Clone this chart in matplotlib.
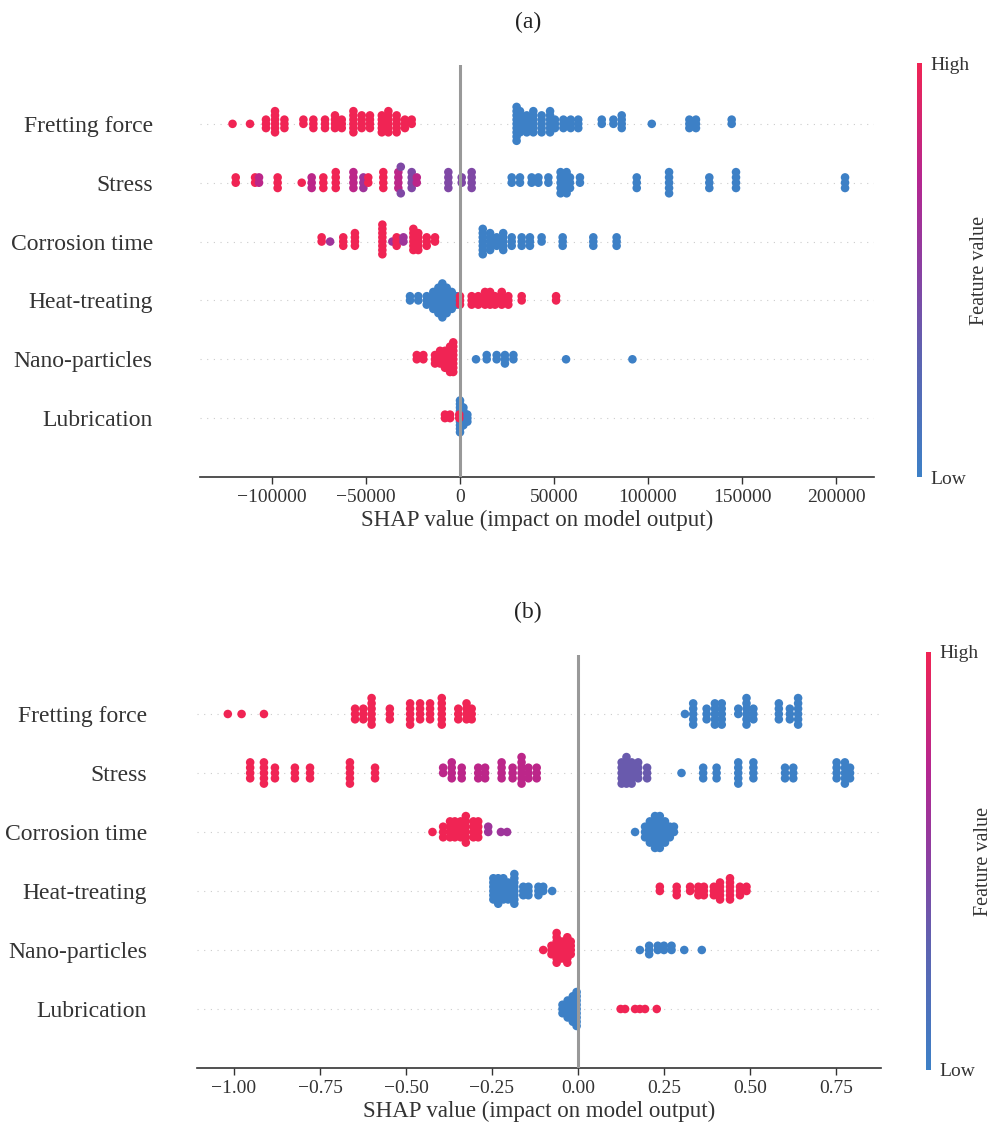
import numpy as np
import matplotlib.pyplot as plt
from matplotlib.colors import LinearSegmentedColormap
from matplotlib.cm import ScalarMappable

plt.rcParams['font.family'] = ['Liberation Serif', 'DejaVu Serif']

features = ["Fretting force", "Stress", "Corrosion time", "Heat-treating", "Nano-particles", "Lubrication"]

# each entry: (shap value, number of samples at that value, feature value 0=low .. 1=high)
a_fretting = [(-121000, 1, 1), (-111700, 1, 1), (-103200, 3, 1), (-98400, 6, 1), (-93400, 3, 1),
              (-83300, 2, 1), (-78000, 3, 1), (-71800, 3, 1), (-66500, 4, 1), (-62900, 3, 1),
              (-56700, 6, 1), (-52300, 4, 1), (-47900, 4, 1), (-41600, 5, 1), (-38100, 6, 1),
              (-33700, 5, 1), (-29300, 3, 1), (-25700, 2, 1),
              (30100, 9, 0), (31900, 6, 0), (35500, 5, 0), (39000, 6, 0), (43400, 5, 0),
              (47900, 6, 0), (50500, 3, 0), (55000, 3, 0), (58900, 3, 0), (62900, 3, 0),
              (75400, 2, 0), (81600, 2, 0), (86000, 4, 0), (102000, 1, 0), (122000, 3, 0),
              (125500, 3, 0), (144500, 2, 0)]
a_stress = [(-119300, 2, 1), (-109000, 2, 1), (-106900, 2, 0.75), (-97000, 3, 1), (-84200, 1, 1),
            (-78900, 3, 0.75), (-72700, 3, 1), (-66100, 4, 1), (-56700, 4, 0.75), (-51400, 3, 0.6),
            (-48800, 2, 1), (-40800, 4, 1), (-32800, 4, 0.75), (-31500, 2, 0.45), (-25700, 4, 0.45),
            (-23000, 2, 0.75), (-6200, 4, 0.45), (900, 2, 0.45), (6200, 4, 0.45),
            (27500, 2, 0), (31900, 2, 0), (38100, 2, 0), (41700, 2, 0), (47000, 2, 0),
            (53500, 5, 0), (56700, 5, 0), (58500, 3, 0), (63800, 2, 0), (94000, 3, 0),
            (111200, 5, 0), (132600, 3, 0), (146800, 4, 0), (204800, 3, 0)]
a_corrosion = [(-73600, 2, 1), (-69100, 1, 0.6), (-62100, 3, 1), (-55900, 4, 1), (-41300, 8, 1),
               (-36000, 1, 0.6), (-33700, 3, 1), (-30100, 2, 0.6), (-24800, 6, 1), (-22200, 5, 1),
               (-17700, 3, 1), (-13300, 2, 1),
               (12100, 7, 0), (16000, 5, 0), (19500, 3, 0), (23000, 5, 0), (27500, 3, 0),
               (32800, 3, 0), (37200, 3, 0), (43400, 2, 0), (54600, 3, 0), (70900, 3, 0), (83300, 3, 0)]
a_heat = [(-26600, 2, 0), (-22200, 2, 0), (-17700, 3, 0), (-14200, 5, 0), (-11500, 7, 0),
          (-9400, 9, 0), (-7100, 7, 0), (-4400, 5, 0), (-1800, 3, 0),
          (0, 3, 1), (6200, 3, 1), (9700, 3, 1), (13300, 4, 1), (16000, 4, 1), (18600, 3, 1),
          (22200, 4, 1), (25700, 3, 1), (32800, 2, 1), (51100, 2, 1)]
a_nano = [(-23000, 2, 1), (-19500, 2, 1), (-13300, 3, 1), (-10600, 4, 1), (-8000, 5, 1),
          (-5300, 7, 1), (-3600, 8, 1),
          (8500, 1, 0), (14200, 2, 0), (19500, 2, 0), (23900, 3, 0), (28400, 2, 0),
          (56400, 1, 0), (91700, 1, 0)]
a_lub = [(0, 10, 0), (1800, 6, 0), (3900, 3, 0), (-8000, 2, 1), (-5300, 2, 1), (-400, 2, 1)]

b_fretting = [(-1.018, 1, 1), (-0.978, 1, 1), (-0.913, 1, 1), (-0.648, 3, 1), (-0.624, 3, 1),
              (-0.600, 6, 1), (-0.547, 3, 1), (-0.488, 5, 1), (-0.459, 4, 1), (-0.430, 4, 1),
              (-0.396, 6, 1), (-0.348, 3, 1), (-0.324, 4, 1), (-0.309, 3, 1),
              (0.311, 1, 0), (0.335, 5, 0), (0.374, 3, 0), (0.398, 5, 0), (0.418, 5, 0),
              (0.466, 2, 0), (0.490, 6, 0), (0.510, 3, 0), (0.584, 4, 0), (0.616, 3, 0), (0.640, 6, 0)]
b_stress = [(-0.953, 4, 1), (-0.913, 5, 1), (-0.881, 3, 1), (-0.823, 3, 1), (-0.779, 3, 1),
            (-0.663, 5, 1), (-0.590, 3, 1),
            (-0.392, 2, 0.75), (-0.367, 4, 0.75), (-0.338, 3, 0.75), (-0.290, 3, 0.75),
            (-0.270, 3, 0.75), (-0.222, 4, 0.75), (-0.190, 3, 0.75), (-0.164, 6, 0.75),
            (-0.144, 3, 0.75), (-0.120, 3, 0.75),
            (0.127, 5, 0.35), (0.141, 6, 0.35), (0.156, 5, 0.35), (0.175, 4, 0.35), (0.201, 3, 0.35),
            (0.301, 1, 0), (0.364, 3, 0), (0.403, 3, 0), (0.466, 5, 0), (0.510, 4, 0),
            (0.602, 3, 0), (0.626, 3, 0), (0.752, 4, 0), (0.776, 5, 0), (0.791, 3, 0)]
b_corrosion = [(-0.423, 1, 1), (-0.392, 3, 1), (-0.372, 4, 1), (-0.358, 4, 1), (-0.341, 4, 1),
               (-0.326, 6, 1), (-0.304, 4, 1), (-0.290, 4, 1), (-0.261, 2, 0.6), (-0.224, 1, 0.6),
               (-0.206, 1, 0.6),
               (0.166, 1, 0), (0.195, 3, 0), (0.209, 5, 0), (0.224, 7, 0), (0.238, 7, 0),
               (0.253, 5, 0), (0.267, 3, 0), (0.279, 2, 0)]
b_heat = [(-0.246, 6, 0), (-0.232, 7, 0), (-0.217, 6, 0), (-0.203, 5, 0), (-0.185, 8, 0),
          (-0.159, 3, 0), (-0.144, 3, 0), (-0.115, 3, 0), (-0.101, 2, 0), (-0.075, 1, 0),
          (0.238, 2, 1), (0.287, 3, 1), (0.326, 2, 1), (0.350, 3, 1), (0.366, 3, 1),
          (0.395, 3, 1), (0.413, 5, 1), (0.442, 6, 1), (0.471, 3, 1), (0.490, 2, 1)]
b_nano = [(-0.101, 1, 1), (-0.077, 3, 1), (-0.062, 8, 1), (-0.047, 5, 1), (-0.031, 7, 1),
          (-0.021, 4, 1),
          (0.180, 1, 0), (0.207, 3, 0), (0.232, 2, 0), (0.250, 2, 0), (0.272, 2, 0),
          (0.309, 1, 0), (0.360, 1, 0)]
b_lub = [(-0.045, 3, 0), (-0.030, 5, 0), (-0.015, 7, 0), (-0.004, 9, 0),
         (0.124, 1, 1), (0.137, 1, 1), (0.166, 1, 1), (0.180, 1, 1), (0.195, 1, 1), (0.229, 1, 1)]

a_ticks = [-100000, -50000, 0, 50000, 100000, 150000, 200000]
b_ticks = [-1.0, -0.75, -0.5, -0.25, 0.0, 0.25, 0.5, 0.75]

cmap = LinearSegmentedColormap.from_list(
    "shap_rb", [(0, "#3d80c6"), (0.3, "#5e62b0"), (0.5, "#8a40a2"), (0.72, "#b52690"), (1, "#f02454")])


def swarm(clusters):
    x = np.repeat([c[0] for c in clusters], [c[1] for c in clusters]).astype(float)
    fv = np.repeat([c[2] for c in clusters], [c[1] for c in clusters]).astype(float)
    # shap style beeswarm layout
    quant = np.round(100 * (x - x.min()) / (x.max() - x.min() + 1e-8))
    inds = np.argsort(quant, kind="stable")
    ys = np.zeros(len(x))
    layer = 0
    last = -1
    for ind in inds:
        if quant[ind] != last:
            layer = 0
        ys[ind] = np.ceil(layer / 2) * ((layer % 2) * 2 - 1)
        layer += 1
        last = quant[ind]
    ys *= 0.9 * (0.4 / np.max(ys + 1))
    return x, ys, fv


def panel(rect, rows, xlim, ticks, ticklabels, cbrect, pad, labx):
    ax = fig.add_axes(rect)
    n = len(rows)
    for i, rw in enumerate(rows):
        pos = n - 1 - i
        ax.axhline(pos, color="#cccccc", lw=0.8, dashes=(1, 5), zorder=-1)
        x, ys, fv = swarm(rw)
        ax.scatter(x, pos + ys, c=fv, cmap=cmap, vmin=0, vmax=1, s=38, linewidths=0, zorder=2)
    ax.axvline(0, color="#999999", lw=2.2, zorder=3)
    ax.set_ylim(-1, n)
    ax.set_xlim(*xlim)
    ax.set_yticks(range(n))
    ax.set_yticklabels(features[::-1], fontsize=17, color="#333333")
    ax.tick_params(axis="y", length=0, pad=pad)
    ax.set_xticks(ticks)
    ax.set_xticklabels(ticklabels, fontsize=14, color="#333333")
    ax.tick_params(axis="x", length=5, width=1, color="#333333")
    for s in ["top", "right", "left"]:
        ax.spines[s].set_visible(False)
    ax.spines["bottom"].set_color("#333333")
    ax.spines["bottom"].set_linewidth(1.2)
    ax.set_xlabel("SHAP value (impact on model output)", fontsize=16.5, color="#333333", labelpad=3)

    cax = fig.add_axes(cbrect)
    cb = fig.colorbar(ScalarMappable(cmap=cmap), cax=cax, ticks=[0, 1])
    cb.set_ticklabels(["Low", "High"])
    cb.ax.tick_params(labelsize=14, length=0, pad=6, colors="#333333")
    cb.outline.set_visible(False)
    cy = cbrect[1] + cbrect[3] / 2
    fig.text(labx / W, cy, "Feature value", rotation=90, fontsize=14.5, color="#333333",
             ha="center", va="center")
    return ax


W, H = 993, 1137
fig = plt.figure(figsize=(9.93, 11.37), dpi=100)

panel([200 / W, 1 - 477 / H, 674 / W, 412 / H],
      [a_fretting, a_stress, a_corrosion, a_heat, a_nano, a_lub],
      (-138300, 220200), a_ticks, ["\u2212100000", "\u221250000", "0", "50000", "100000", "150000", "200000"],
      [917 / W, 1 - 477 / H, 5 / W, 414 / H], 34, 980)
fig.text(528 / W, 1 - 22 / H, "(a)", fontsize=17, ha="center", va="center", color="#222222")

panel([197 / W, 1 - 1068 / H, 684 / W, 413 / H],
      [b_fretting, b_stress, b_corrosion, b_heat, b_nano, b_lub],
      (-1.1076, 0.881), b_ticks, ["\u22121.00", "\u22120.75", "\u22120.50", "\u22120.25", "0.00", "0.25", "0.50", "0.75"],
      [926 / W, 1 - 1070 / H, 5 / W, 418 / H], 36, 984)
fig.text(528 / W, 1 - 612 / H, "(b)", fontsize=17, ha="center", va="center", color="#222222")

fig.savefig("out.png", dpi=100)
